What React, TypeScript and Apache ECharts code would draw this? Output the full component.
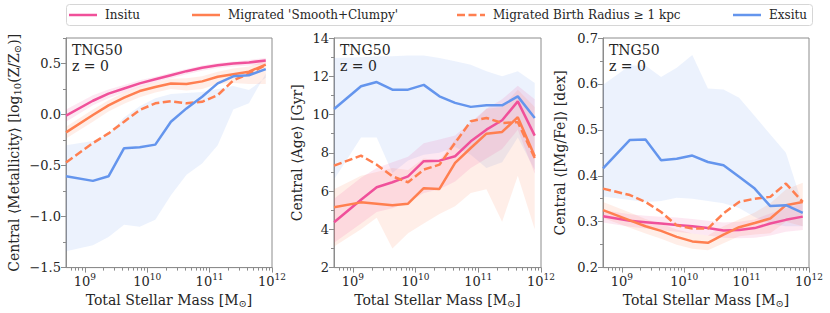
import React, { useEffect, useRef } from 'react';
import * as echarts from 'echarts';

// ---------- data (log10 of total stellar mass per bin) ----------
const logMass = [8.70, 9.13, 9.38, 9.63, 9.88, 10.13, 10.38, 10.63, 10.88, 11.13, 11.38, 11.63, 11.90];

// Panel 1: metallicity
const metInsitu = [-0.01, 0.135, 0.205, 0.255, 0.305, 0.345, 0.385, 0.425, 0.458, 0.484, 0.50, 0.51, 0.53];
const metInsituHi = [0.05, 0.19, 0.245, 0.29, 0.335, 0.37, 0.41, 0.445, 0.48, 0.505, 0.52, 0.535, 0.555];
const metInsituLo = [-0.07, 0.09, 0.16, 0.215, 0.27, 0.315, 0.355, 0.395, 0.43, 0.455, 0.47, 0.48, 0.49];
const metSmooth = [-0.175, -0.005, 0.09, 0.165, 0.23, 0.27, 0.305, 0.30, 0.325, 0.37, 0.395, 0.42, 0.49];
const metSmoothHi = [-0.12, 0.05, 0.14, 0.215, 0.275, 0.315, 0.35, 0.355, 0.375, 0.42, 0.45, 0.47, 0.53];
const metSmoothLo = [-0.235, -0.07, 0.03, 0.105, 0.17, 0.215, 0.25, 0.235, 0.25, 0.30, 0.31, 0.30, 0.30];
const metBirth = [-0.47, -0.28, -0.185, -0.07, 0.045, 0.11, 0.13, 0.11, 0.125, 0.19, 0.335, 0.40, 0.485];
const metExsitu = [-0.605, -0.65, -0.605, -0.33, -0.32, -0.295, -0.07, 0.06, 0.175, 0.305, 0.375, 0.385, 0.445];
const metExsituHi = [-0.30, -0.26, -0.19, -0.03, 0.08, 0.16, 0.20, 0.21, 0.22, 0.25, 0.28, 0.24, 0.36];
const metExsituLo = [-1.34, -1.28, -1.20, -1.08, -1.10, -1.03, -0.79, -0.59, -0.48, -0.30, 0.05, 0.11, 0.40];

// Panel 2: age
const ageInsitu = [4.37, 5.55, 6.20, 6.46, 6.77, 7.56, 7.59, 7.82, 8.60, 9.21, 9.70, 10.69, 8.90];
const ageInsituHi = [5.6, 6.7, 7.2, 7.5, 7.8, 8.5, 8.7, 8.9, 9.6, 10.3, 10.8, 11.5, 10.8];
const ageInsituLo = [3.3, 4.3, 4.9, 5.1, 5.4, 5.9, 6.1, 6.5, 7.2, 7.7, 8.2, 9.2, 6.9];
const ageSmooth = [5.15, 5.41, 5.34, 5.26, 5.34, 6.15, 6.11, 7.47, 8.25, 9.00, 9.09, 9.86, 7.82];
const ageSmoothHi = [6.1, 6.8, 7.0, 7.2, 7.1, 7.7, 7.6, 8.7, 9.5, 10.3, 10.4, 11.3, 10.4];
const ageSmoothLo = [3.1, 4.0, 4.6, 3.0, 3.8, 4.3, 4.8, 5.2, 5.9, 6.1, 4.4, 6.8, 4.0];
const ageBirth = [7.33, 7.85, 7.38, 6.77, 6.46, 7.12, 7.38, 8.52, 9.65, 9.82, 9.56, 9.60, 7.73];
const ageExsitu = [10.29, 11.48, 11.70, 11.30, 11.30, 11.55, 10.95, 10.61, 10.40, 10.48, 10.48, 10.95, 9.82];
const ageExsituHi = [12.96, 13.0, 13.05, 13.05, 13.08, 13.08, 12.96, 12.78, 12.6, 12.26, 12.0, 12.26, 11.65];
const ageExsituLo = [6.6, 8.8, 8.8, 6.95, 7.6, 7.9, 8.0, 8.3, 7.9, 7.2, 7.5, 8.8, 7.1];

// Panel 3: [Mg/Fe]
const mgInsitu = [0.312, 0.302, 0.299, 0.296, 0.293, 0.290, 0.286, 0.281, 0.282, 0.286, 0.296, 0.304, 0.311];
const mgInsituHi = [0.325, 0.316, 0.313, 0.311, 0.309, 0.306, 0.302, 0.298, 0.300, 0.305, 0.318, 0.330, 0.340];
const mgInsituLo = [0.298, 0.289, 0.285, 0.282, 0.278, 0.274, 0.270, 0.265, 0.264, 0.265, 0.270, 0.278, 0.282];
const mgSmooth = [0.325, 0.303, 0.290, 0.280, 0.267, 0.257, 0.254, 0.272, 0.288, 0.297, 0.307, 0.336, 0.343];
const mgSmoothHi = [0.343, 0.320, 0.306, 0.295, 0.283, 0.274, 0.270, 0.290, 0.305, 0.320, 0.340, 0.370, 0.385];
const mgSmoothLo = [0.308, 0.287, 0.274, 0.263, 0.250, 0.241, 0.238, 0.253, 0.268, 0.272, 0.275, 0.300, 0.290];
const mgBirth = [0.372, 0.358, 0.343, 0.321, 0.292, 0.285, 0.285, 0.318, 0.343, 0.350, 0.354, 0.383, 0.343];
const mgExsitu = [0.416, 0.478, 0.479, 0.434, 0.437, 0.444, 0.430, 0.423, 0.398, 0.372, 0.334, 0.336, 0.319];
const mgExsituHi = [0.598, 0.640, 0.640, 0.615, 0.635, 0.663, 0.590, 0.588, 0.570, 0.530, 0.490, 0.450, 0.335];
const mgExsituLo = [0.355, 0.347, 0.343, 0.345, 0.352, 0.350, 0.345, 0.340, 0.330, 0.310, 0.295, 0.290, 0.290];

// tick labels / names
const seriesNames = ['Insitu', "Migrated 'Smooth+Clumpy'", 'Migrated Birth Radius \u2265 1 kpc', 'Exsitu'];
const xMajorTicks = [9, 10, 11, 12];
const metTicks = [-1.5, -1.0, -0.5, 0.0, 0.5];
const metMinor = [-1.25, -0.75, -0.25, 0.25, 0.75];
const ageTicks = [2, 4, 6, 8, 10, 12, 14];
const ageMinor = [3, 5, 7, 9, 11, 13];
const mgTicks = [0.2, 0.3, 0.4, 0.5, 0.6, 0.7];
const mgMinor = [0.25, 0.35, 0.45, 0.55, 0.65];

// ---------- styling ----------
const FONT = "'DejaVu Serif', 'Liberation Serif', serif";
const TEXT = '#262626';
const FRAME = '#8c8c8c';
const C_IN = '#F0509A';
const C_MIG = '#FF7F50';
const C_EX = '#6495ED';
const XMIN = Math.log10(5e8);
const XMAX = 12;
const DASH = [8, 3.5];

const xMinorTicks: number[] = [];
for (let n = 8; n < 12; n++) {
  for (let k = 2; k <= 9; k++) {
    const v = n + Math.log10(k);
    if (v > XMIN + 1e-6 && v < XMAX) xMinorTicks.push(v);
  }
}

const GRIDS = [
  { left: 66, width: 206 },
  { left: 334, width: 207 },
  { left: 603, width: 206 },
];
const TOP = 38;
const HEIGHT = 230;

const minusFmt = (v: number, d: number) => (v < 0 ? '\u2212' + Math.abs(v).toFixed(d) : v.toFixed(d));

const PANELS = [
  {
    ymin: -1.5, ymax: 0.75, major: metTicks, minor: metMinor, fmt: (v: number) => minusFmt(v, 1),
    name: '{a|Central \u27e8Metallicity\u27e9 [log}{sub|10}{a|(Z/Z}{sub|\u2299}{a|)]}', nameGap: 44,
    lines: [metInsitu, metSmooth, metBirth, metExsitu],
    bands: [
      { hi: metExsituHi, lo: metExsituLo, color: 'rgba(100,149,237,0.12)' },
      { hi: metSmoothHi, lo: metSmoothLo, color: 'rgba(255,127,80,0.13)' },
      { hi: metInsituHi, lo: metInsituLo, color: 'rgba(240,80,154,0.13)' },
    ],
  },
  {
    ymin: 2, ymax: 14, major: ageTicks, minor: ageMinor, fmt: (v: number) => String(v),
    name: 'Central \u27e8Age\u27e9 [Gyr]', nameGap: 30,
    lines: [ageInsitu, ageSmooth, ageBirth, ageExsitu],
    bands: [
      { hi: ageExsituHi, lo: ageExsituLo, color: 'rgba(100,149,237,0.12)' },
      { hi: ageSmoothHi, lo: ageSmoothLo, color: 'rgba(255,127,80,0.13)' },
      { hi: ageInsituHi, lo: ageInsituLo, color: 'rgba(240,80,154,0.13)' },
    ],
  },
  {
    ymin: 0.2, ymax: 0.7, major: mgTicks, minor: mgMinor, fmt: (v: number) => v.toFixed(1),
    name: 'Central \u27e8[Mg/Fe]\u27e9 [dex]', nameGap: 36,
    lines: [mgInsitu, mgSmooth, mgBirth, mgExsitu],
    bands: [
      { hi: mgExsituHi, lo: mgExsituLo, color: 'rgba(100,149,237,0.12)' },
      { hi: mgSmoothHi, lo: mgSmoothLo, color: 'rgba(255,127,80,0.13)' },
      { hi: mgInsituHi, lo: mgInsituLo, color: 'rgba(240,80,154,0.13)' },
    ],
  },
];

const LINE_STYLES = [
  { color: C_IN, dash: null as number[] | null },
  { color: C_MIG, dash: null as number[] | null },
  { color: C_MIG, dash: DASH },
  { color: C_EX, dash: null as number[] | null },
];

const nameRich = {
  a: { fontFamily: FONT, fontSize: 14, color: TEXT },
  sub: { fontFamily: FONT, fontSize: 10, color: TEXT, padding: [7, 0, 0, 0] },
};

function buildOption() {
  const grid: any[] = [];
  const xAxis: any[] = [];
  const yAxis: any[] = [];
  const series: any[] = [];
  const graphic: any[] = [];

  PANELS.forEach((p, i) => {
    const g = GRIDS[i];
    grid.push({
      left: g.left, top: TOP, width: g.width, height: HEIGHT,
      show: true, borderColor: FRAME, borderWidth: 1, backgroundColor: 'transparent',
    });
    xAxis.push({
      type: 'value', gridIndex: i, min: XMIN, max: XMAX, position: 'bottom',
      axisLine: { show: true, onZero: false, lineStyle: { color: FRAME, width: 1 } },
      axisTick: { show: true, customValues: xMajorTicks, length: 5, lineStyle: { color: FRAME } },
      axisLabel: {
        customValues: xMajorTicks, margin: 5,
        formatter: (v: number) => `{b|10}{s|${Math.round(v)}}`,
        rich: {
          b: { fontFamily: FONT, fontSize: 13, color: TEXT },
          s: { fontFamily: FONT, fontSize: 9, color: TEXT, padding: [0, 0, 8, 0] },
        },
      },
      splitLine: { show: false },
      name: '{a|Total Stellar Mass [M}{sub|\u2299}{a|]}',
      nameLocation: 'middle', nameGap: 22,
      nameTextStyle: { fontFamily: FONT, fontSize: 14, color: TEXT, rich: nameRich },
    });
    xAxis.push({
      type: 'value', gridIndex: i, min: XMIN, max: XMAX, position: 'bottom',
      axisLine: { show: false, onZero: false },
      axisTick: { show: true, customValues: xMinorTicks, length: 3, lineStyle: { color: FRAME } },
      axisLabel: { show: false },
      splitLine: { show: false },
    });
    yAxis.push({
      type: 'value', gridIndex: i, min: p.ymin, max: p.ymax, position: 'left',
      axisLine: { show: true, onZero: false, lineStyle: { color: FRAME, width: 1 } },
      axisTick: { show: true, customValues: p.major, length: 5, lineStyle: { color: FRAME } },
      axisLabel: {
        customValues: p.major, margin: 5, formatter: p.fmt,
        fontFamily: FONT, fontSize: 13, color: TEXT,
      },
      splitLine: { show: false },
      name: p.name, nameLocation: 'middle', nameGap: p.nameGap, nameRotate: 90,
      nameTextStyle: { fontFamily: FONT, fontSize: 14, color: TEXT, rich: nameRich },
    });
    yAxis.push({
      type: 'value', gridIndex: i, min: p.ymin, max: p.ymax, position: 'left',
      axisLine: { show: false, onZero: false },
      axisTick: { show: true, customValues: p.minor, length: 3, lineStyle: { color: FRAME } },
      axisLabel: { show: false },
      splitLine: { show: false },
    });

    // bands
    p.bands.forEach((b, k) => {
      series.push({
        type: 'custom', id: `band-${i}-${k}`, xAxisIndex: 2 * i, yAxisIndex: 2 * i,
        silent: true, z: 1, clip: true,
        data: [[logMass[0], b.lo[0]]],
        renderItem: (_params: any, api: any) => {
          const pts: number[][] = [];
          for (let j = 0; j < logMass.length; j++) pts.push(api.coord([logMass[j], b.hi[j]]));
          for (let j = logMass.length - 1; j >= 0; j--) pts.push(api.coord([logMass[j], b.lo[j]]));
          return { type: 'polygon', shape: { points: pts }, style: { fill: b.color } };
        },
      });
    });

    // lines
    p.lines.forEach((arr, k) => {
      const st = LINE_STYLES[k];
      series.push({
        type: 'line', name: seriesNames[k], xAxisIndex: 2 * i, yAxisIndex: 2 * i,
        data: logMass.map((x, j) => [x, arr[j]]),
        symbol: 'none', showSymbol: false, clip: true, z: 3 + k,
        lineStyle: { color: st.color, width: 2.5, type: st.dash ? st.dash : 'solid' },
        itemStyle: { color: st.color },
      });
    });

    graphic.push({
      type: 'text', x: g.left + 6, y: TOP + 4, z: 10,
      style: { text: 'TNG50\nz = 0', fontFamily: FONT, fontSize: 14, fill: TEXT, lineHeight: 16 },
    });
  });

  // legend (drawn as a framed row of line keys and labels)
  graphic.push({
    type: 'rect', z: 5,
    shape: { x: 66.5, y: 4.5, width: 746, height: 21, r: 3 },
    style: { fill: 'rgba(255,255,255,0.85)', stroke: '#d6d6d6', lineWidth: 1 },
  });
  const legendLefts = [69, 192, 457, 733];
  seriesNames.forEach((n, k) => {
    const st = LINE_STYLES[k];
    const L = legendLefts[k];
    graphic.push({
      type: 'line', z: 6,
      shape: { x1: L, y1: 15, x2: L + 28, y2: 15 },
      style: { stroke: st.color, lineWidth: 2.5, lineDash: st.dash || undefined },
    });
    graphic.push({
      type: 'text', z: 6, x: L + 36, y: 15,
      style: { text: n, fontFamily: FONT, fontSize: 12, fill: TEXT, verticalAlign: 'middle' },
    });
  });

  return { animation: false, grid, xAxis, yAxis, series, graphic };
}

export default function App() {
  const ref = useRef<HTMLDivElement>(null);
  useEffect(() => {
    if (!ref.current) return;
    const chart = echarts.init(ref.current, undefined, { renderer: 'svg' });
    chart.setOption(buildOption() as any);
    return () => chart.dispose();
  }, []);
  return (
    <div
      ref={ref}
      style={{ position: 'absolute', left: 0, top: 0, width: 830, height: 313, background: '#fff' }}
    />
  );
}
